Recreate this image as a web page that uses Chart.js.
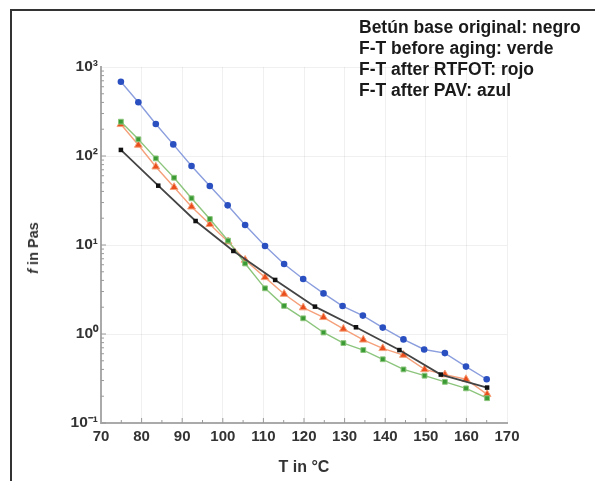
<!DOCTYPE html>
<html>
<head>
<meta charset="utf-8">
<script src="https://cdn.jsdelivr.net/npm/chart.js@4.4.1/dist/chart.umd.min.js"></script>
<style>
  body { margin: 0; background: #fff; }
  #wrap { position: relative; width: 595px; height: 481px; overflow: hidden; }
  #frame { position: absolute; left: 10px; top: 9px; width: 600px; height: 480px;
           border-top: 2px solid #333; border-left: 2px solid #333; }
  #legend { position: absolute; left: 359px; top: 17px; font: bold 17.5px "Liberation Sans", Arial, sans-serif;
            color: #1a1a1a; line-height: 21px; }
  #ytitle { position: absolute; left: 33px; top: 248px; transform: translate(-50%, -50%) rotate(-90deg);
            font: bold 14.5px "Liberation Sans", Arial, sans-serif; color: #333; white-space: nowrap; }
  canvas { position: absolute; left: 0; top: 0; }
</style>
</head>
<body>
<div id="wrap">
  <div id="frame"></div>
  <canvas id="c" width="595" height="481"></canvas>
  <div id="legend">
    <div>Betún base original: negro</div>
    <div>F-T before aging: verde</div>
    <div>F-T after RTFOT: rojo</div>
    <div>F-T after PAV: azul</div>
  </div>
  <div id="ytitle"><i>f</i> in Pas</div>
</div>
<script>
// temperatures (°C)
const tBlue = [74.9, 79.2, 83.5, 87.8, 92.3, 96.8, 101.2, 105.5, 110.4, 115.1, 119.8, 124.8, 129.5, 134.5, 139.4, 144.5, 149.6, 154.7, 159.9, 165.0];
const tGreenRed = [74.9, 79.2, 83.5, 88.0, 92.3, 96.8, 101.3, 105.5, 110.4, 115.1, 119.8, 124.8, 129.7, 134.6, 139.4, 144.5, 149.7, 154.7, 159.9, 165.1];
const tBlack = [74.9, 84.1, 93.3, 102.6, 112.9, 122.7, 132.8, 143.5, 153.7, 165.1];

// viscosity f in Pa·s
const fBlack = [117, 46.4, 18.6, 8.57, 4.05, 2.03, 1.19, 0.66, 0.35, 0.25];
const fGreen = [243, 154, 94, 57, 33.5, 19.6, 11.2, 6.2, 3.26, 2.07, 1.50, 1.04, 0.79, 0.66, 0.52, 0.40, 0.34, 0.29, 0.245, 0.19];
const fRed = [227, 133, 75.8, 44.5, 26.9, 17.1, 10.9, 6.78, 4.33, 2.81, 1.98, 1.54, 1.14, 0.86, 0.69, 0.58, 0.40, 0.35, 0.31, 0.21];
const fBlue = [684, 401, 229, 135, 77.3, 46, 27.9, 16.8, 9.75, 6.12, 4.15, 2.86, 2.06, 1.61, 1.18, 0.87, 0.67, 0.61, 0.43, 0.31];

const xTicks = [70, 80, 90, 100, 110, 120, 130, 140, 150, 160, 170];
const yTicks = [0.1, 1, 10, 100, 1000];
const yLabels = ["10⁻¹", "10⁰", "10¹", "10²", "10³"];

const pts = (xs, ys) => xs.map((x, i) => ({ x: x, y: ys[i] }));
const font = { family: "'Liberation Sans', Arial, sans-serif", size: 15, weight: "bold" };

// small inward minor ticks along both axes
const minorTicks = {
  id: "minorTicks",
  afterDraw(chart) {
    const { ctx, scales: { x, y }, chartArea: a } = chart;
    ctx.save();
    ctx.strokeStyle = "#999";
    ctx.lineWidth = 1;
    for (let v = 75; v < 170; v += 5) {
      const px = x.getPixelForValue(v);
      ctx.beginPath(); ctx.moveTo(px, a.bottom); ctx.lineTo(px, a.bottom - (v % 10 ? 3 : 5)); ctx.stroke();
    }
    for (let d = 0.1; d < 1000; d *= 10) {
      for (let m = 1; m < 10; m++) {
        const py = y.getPixelForValue(d * m);
        ctx.beginPath(); ctx.moveTo(a.left, py); ctx.lineTo(a.left + (m === 1 ? 5 : 3), py); ctx.stroke();
      }
    }
    ctx.restore();
  }
};

new Chart(document.getElementById("c"), {
  type: "line",
  data: {
    datasets: [
      { label: "negro", data: pts(tBlack, fBlack), borderColor: "#444", backgroundColor: "#111",
        pointStyle: "rect", pointRadius: 3.2, pointBorderWidth: 0, borderWidth: 1.8 },
      { label: "verde", data: pts(tGreenRed, fGreen), borderColor: "#8cc57c", backgroundColor: "#3a9a34",
        pointStyle: "rect", pointRadius: 3.4, pointBorderColor: "#8cc57c", pointBorderWidth: 1, borderWidth: 1.4 },
      { label: "rojo", data: pts(tGreenRed, fRed), borderColor: "#f5a07a", backgroundColor: "#ea4e1c",
        pointStyle: "triangle", pointRadius: 4.5, pointBorderColor: "#f5a07a", pointBorderWidth: 1, borderWidth: 1.4 },
      { label: "azul", data: pts(tBlue, fBlue), borderColor: "#8b9ede", backgroundColor: "#2a4fc0",
        pointStyle: "circle", pointRadius: 3.3, pointBorderWidth: 0, borderWidth: 1.4 }
    ]
  },
  options: {
    responsive: false,
    animation: false,
    layout: { padding: { left: 0, top: 67, right: 88, bottom: 0 } },
    plugins: { legend: { display: false }, tooltip: { enabled: false } },
    scales: {
      x: {
        type: "linear", min: 70, max: 170,
        afterBuildTicks: (s) => { s.ticks = xTicks.map(v => ({ value: v })); },
        afterFit: (s) => { s.height = 58; },
        ticks: { color: "#333", font: font, padding: 5, maxRotation: 0 },
        grid: { color: "rgba(0,0,0,0.06)", tickLength: 0, lineWidth: 1 },
        border: { color: "#aaa", width: 2 },
        title: { display: true, text: "T in °C", color: "#333", font: { ...font, size: 16 }, padding: { top: 2 } }
      },
      y: {
        type: "logarithmic", min: 0.1, max: 1000,
        afterBuildTicks: (s) => { s.ticks = yTicks.map(v => ({ value: v })); },
        afterFit: (s) => { s.width = 101; },
        ticks: { color: "#333", font: { ...font, size: 15.5 }, padding: 3,
                 callback: (v) => yLabels[yTicks.indexOf(v)] },
        grid: { color: "rgba(0,0,0,0.06)", tickLength: 0, lineWidth: 1 },
        border: { color: "#aaa", width: 2 }
      }
    }
  },
  plugins: [minorTicks]
});
</script>
</body>
</html>
